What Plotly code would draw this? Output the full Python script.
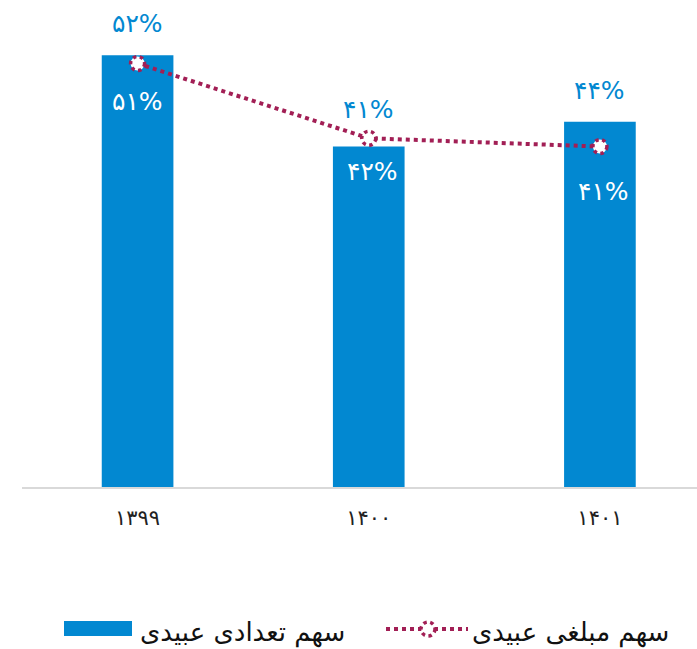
import plotly.graph_objects as go

# Data
years = ["۱۳۹۹", "۱۴۰۰", "۱۴۰۱"]
count_share = [52, 41, 44]        # سهم تعدادی عبیدی (bars)
amount_share = [51, 42, 41]       # سهم مبلغی عبیدی (dotted line)
count_labels = ["۵۲%", "۴۱%", "۴۴%"]
amount_labels = ["۵۱%", "۴۲%", "۴۱%"]

# Styling
BLUE = "#0288D1"
MAROON = "#A21F55"
FONT = "DejaVu Sans"
W, H = 697, 649
ML, MR, MT, MB = 22, 0, 22, 162
PLOT_W, PLOT_H = W - ML - MR, H - MT - MB

# label nudges (pixels)
count_label_dy = [32, 37, 31]
amount_label_dy = [-38, -33, -45]
amount_label_dx = [0, 4, 4]

x_idx = list(range(len(years)))

fig = go.Figure()
fig.add_trace(go.Bar(
    x=x_idx, y=count_share, width=0.31,
    marker=dict(color=BLUE, line=dict(width=0)),
    name="سهم تعدادی عبیدی", showlegend=False,
))
fig.add_trace(go.Scatter(
    x=x_idx, y=amount_share, mode="lines",
    line=dict(color=MAROON, width=4, dash="4px,4px"),
    name="سهم مبلغی عبیدی", showlegend=False,
))

shapes = []
annotations = []

# hollow dotted markers on the line points
for i, v in zip(x_idx, amount_share):
    shapes.append(dict(
        type="circle", xref="x", yref="y",
        xsizemode="pixel", ysizemode="pixel",
        xanchor=i, yanchor=v, x0=-7, x1=7, y0=-7, y1=7,
        fillcolor="white", line=dict(color=MAROON, width=3.5, dash="dot"),
        layer="above",
    ))

for i, v, t, dy in zip(x_idx, count_share, count_labels, count_label_dy):
    annotations.append(dict(
        x=i, y=v, xref="x", yref="y", text=t, showarrow=False,
        yshift=dy, font=dict(family=FONT, size=25, color=BLUE),
    ))
for i, v, t, dy, dx in zip(x_idx, amount_share, amount_labels,
                           amount_label_dy, amount_label_dx):
    annotations.append(dict(
        x=i, y=v, xref="x", yref="y", text=t, showarrow=False,
        yshift=dy, xshift=dx, font=dict(family=FONT, size=25, color="white"),
    ))


def px(xp):
    return (xp - ML) / PLOT_W


def py(yp):
    return (H - MB - yp) / PLOT_H


# legend drawn at the bottom
shapes.append(dict(type="rect", xref="paper", yref="paper",
                   x0=px(64), x1=px(132), y0=py(636), y1=py(621),
                   fillcolor=BLUE, line=dict(width=0)))
annotations.append(dict(xref="paper", yref="paper", x=px(138), y=py(632),
                        xanchor="left", yanchor="middle", showarrow=False,
                        text="سهم تعدادی عبیدی",
                        font=dict(family=FONT, size=26, color="#111111")))
shapes.append(dict(type="line", xref="paper", yref="paper",
                   x0=px(386), x1=px(468), y0=py(629), y1=py(629),
                   line=dict(color=MAROON, width=4, dash="4px,4px")))
shapes.append(dict(type="circle", xref="paper", yref="paper",
                   x0=px(421), x1=px(435), y0=py(636), y1=py(622),
                   fillcolor="white", line=dict(color=MAROON, width=3.5, dash="dot")))
annotations.append(dict(xref="paper", yref="paper", x=px(470), y=py(632),
                        xanchor="left", yanchor="middle", showarrow=False,
                        text="سهم مبلغی عبیدی",
                        font=dict(family=FONT, size=26, color="#111111")))

fig.update_layout(
    width=W, height=H,
    margin=dict(l=ML, r=MR, t=MT, b=MB, pad=0),
    paper_bgcolor="white", plot_bgcolor="white",
    showlegend=False,
    shapes=shapes, annotations=annotations,
    font=dict(family=FONT),
    xaxis=dict(
        range=[-0.5, 2.42], tickmode="array", tickvals=x_idx, ticktext=years,
        showgrid=False, zeroline=False, showline=True,
        linecolor="#D9D9D9", linewidth=2, ticks="",
        ticklabelstandoff=11,
        tickfont=dict(family=FONT, size=21, color="#222222"),
        fixedrange=True,
    ),
    yaxis=dict(range=[0, 56], visible=False, showgrid=False, zeroline=False,
               fixedrange=True),
)

fig.write_html("out.html")
